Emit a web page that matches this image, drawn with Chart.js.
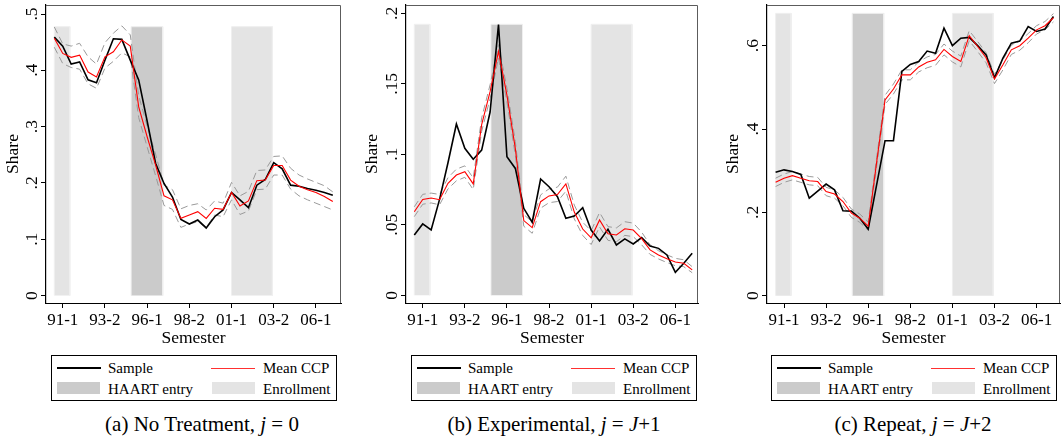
<!DOCTYPE html>
<html>
<head>
<meta charset="utf-8">
<script src="https://cdn.jsdelivr.net/npm/chart.js@4.4.1/dist/chart.umd.min.js"></script>
<style>
  html, body { margin: 0; padding: 0; background: #fff; }
  body { width: 1062px; height: 440px; position: relative; overflow: hidden;
         font-family: 'Liberation Serif', 'Times New Roman', serif; color: #000; }
  .panel { position: absolute; top: 0; width: 354px; height: 350px; }
  .legend { position: absolute; top: 355px; width: 284px; height: 44px; border: 1px solid #000; background: #fff; }
  .legend .sw { position: absolute; }
  .legend .lab { position: absolute; font-size: 15px; line-height: 18px; white-space: nowrap; }
  .caption { position: absolute; top: 411px; font-size: 21px; line-height: 26px; white-space: nowrap; transform: translateX(-50%); }
</style>
</head>
<body>

<div class="panel" style="left:0"><canvas id="chartA"></canvas></div>
<div class="panel" style="left:354px"><canvas id="chartB"></canvas></div>
<div class="panel" style="left:708px"><canvas id="chartC"></canvas></div>

<div id="legends"></div>

<div class="caption" style="left:202px">(a) No Treatment, <i>j</i> = 0</div>
<div class="caption" style="left:554px">(b) Experimental, <i>j</i> = <i>J</i>+1</div>
<div class="caption" style="left:913px">(c) Repeat, <i>j</i> = <i>J</i>+2</div>

<script>
// ─── DATA ───────────────────────────────────────────────────────
const semesters = ['90-2', '91-1', '91-2', '92-1', '92-2', '93-1', '93-2', '94-1', '94-2', '95-1',
  '95-2', '96-1', '96-2', '97-1', '97-2', '98-1', '98-2', '99-1', '99-2', '00-1',
  '00-2', '01-1', '01-2', '02-1', '02-2', '03-1', '03-2', '04-1', '04-2', '05-1',
  '05-2', '06-1', '06-2', '07-1'];
const xTickIdx = [1, 6, 11, 16, 21, 26, 31];

// shaded periods, in semester index units
const enrollSpans = [[0, 1.85], [21, 25.85]];
const haartSpan = [9.1, 12.85];
const bandTops = [0.4775, 0.1922, 0.6776];

const legendNames = ['Sample', 'Mean CCP', 'HAART entry', 'Enrollment'];

// (a) no treatment
const noTreatSample = [0.459, 0.443, 0.411, 0.415, 0.383, 0.378, 0.418, 0.456, 0.455, 0.418,
  0.383, 0.310, 0.235, 0.199, 0.175, 0.135, 0.127, 0.134, 0.120, 0.140,
  0.152, 0.183, 0.170, 0.156, 0.196, 0.206, 0.236, 0.225, 0.196, 0.194,
  0.190, 0.187, 0.183, 0.178];
const noTreatCCP = [0.457, 0.430, 0.423, 0.427, 0.397, 0.388, 0.424, 0.433, 0.454, 0.443,
  0.335, 0.282, 0.232, 0.177, 0.170, 0.137, 0.143, 0.149, 0.137, 0.155,
  0.153, 0.183, 0.159, 0.168, 0.204, 0.205, 0.231, 0.231, 0.205, 0.194,
  0.188, 0.183, 0.176, 0.167];
const noTreatHi = [0.477, 0.447, 0.443, 0.448, 0.424, 0.411, 0.449, 0.466, 0.479, 0.463,
  0.355, 0.301, 0.251, 0.196, 0.188, 0.154, 0.160, 0.163, 0.152, 0.168,
  0.164, 0.201, 0.177, 0.185, 0.222, 0.223, 0.247, 0.248, 0.226, 0.214,
  0.207, 0.201, 0.195, 0.184];
const noTreatLo = [0.441, 0.412, 0.405, 0.402, 0.376, 0.368, 0.404, 0.416, 0.431, 0.424,
  0.316, 0.264, 0.213, 0.160, 0.153, 0.121, 0.127, 0.131, 0.121, 0.143,
  0.140, 0.170, 0.144, 0.150, 0.188, 0.189, 0.214, 0.214, 0.189, 0.177,
  0.170, 0.164, 0.158, 0.152];
const noTreatTicks = [0, 0.1, 0.2, 0.3, 0.4, 0.5];

// (b) experimental
const experSample = [0.0428, 0.0506, 0.0463, 0.0680, 0.0940, 0.1215, 0.1043, 0.0965, 0.1030, 0.1300,
  0.1920, 0.0983, 0.0900, 0.0617, 0.0518, 0.0825, 0.0770, 0.0700, 0.0546, 0.0562,
  0.0621, 0.0463, 0.0385, 0.0468, 0.0357, 0.0400, 0.0364, 0.0409, 0.0350, 0.0333,
  0.0286, 0.0163, 0.0227, 0.0298];
const experCCP = [0.0593, 0.0680, 0.0690, 0.0678, 0.0794, 0.0853, 0.0877, 0.0790, 0.1210, 0.1444,
  0.1730, 0.1420, 0.1040, 0.0530, 0.0480, 0.0664, 0.0705, 0.0715, 0.0790, 0.0590,
  0.0470, 0.0408, 0.0534, 0.0437, 0.0428, 0.0472, 0.0463, 0.0402, 0.0322, 0.0286,
  0.0259, 0.0236, 0.0227, 0.0180];
const experHi = [0.0628, 0.0716, 0.0725, 0.0715, 0.0834, 0.0895, 0.0918, 0.0832, 0.1258, 0.1493,
  0.1778, 0.1468, 0.1090, 0.0572, 0.0522, 0.0712, 0.0755, 0.0767, 0.0845, 0.0640,
  0.0518, 0.0458, 0.0587, 0.0487, 0.0478, 0.0522, 0.0512, 0.0448, 0.0358, 0.0316,
  0.0287, 0.0262, 0.0252, 0.0203];
const experLo = [0.0558, 0.0646, 0.0655, 0.0642, 0.0755, 0.0812, 0.0837, 0.0750, 0.1163, 0.1395,
  0.1683, 0.1373, 0.0992, 0.0490, 0.0440, 0.0618, 0.0657, 0.0665, 0.0738, 0.0542,
  0.0425, 0.0360, 0.0485, 0.0390, 0.0380, 0.0425, 0.0416, 0.0358, 0.0290, 0.0258,
  0.0232, 0.0210, 0.0203, 0.0160];
const experTicks = [0, 0.05, 0.1, 0.15, 0.2];

// (c) repeat
const repeatSample = [0.296, 0.302, 0.298, 0.291, 0.234, 0.251, 0.268, 0.254, 0.204, 0.203,
  0.186, 0.160, 0.266, 0.372, 0.372, 0.538, 0.555, 0.562, 0.587, 0.582,
  0.642, 0.600, 0.618, 0.620, 0.600, 0.578, 0.523, 0.570, 0.606, 0.611,
  0.646, 0.634, 0.640, 0.670];
const repeatCCP = [0.272, 0.282, 0.288, 0.282, 0.276, 0.274, 0.250, 0.244, 0.226, 0.198,
  0.186, 0.167, 0.320, 0.470, 0.496, 0.530, 0.530, 0.549, 0.560, 0.566,
  0.591, 0.574, 0.562, 0.624, 0.598, 0.571, 0.520, 0.554, 0.590, 0.600,
  0.618, 0.638, 0.648, 0.667];
const repeatHi = [0.282, 0.292, 0.298, 0.292, 0.286, 0.284, 0.260, 0.254, 0.236, 0.208,
  0.196, 0.177, 0.331, 0.481, 0.508, 0.542, 0.542, 0.561, 0.573, 0.579,
  0.604, 0.587, 0.575, 0.636, 0.610, 0.583, 0.531, 0.566, 0.601, 0.611,
  0.629, 0.648, 0.658, 0.677];
const repeatLo = [0.262, 0.272, 0.278, 0.272, 0.266, 0.264, 0.240, 0.234, 0.216, 0.188,
  0.176, 0.157, 0.309, 0.459, 0.484, 0.518, 0.518, 0.537, 0.547, 0.553,
  0.578, 0.561, 0.549, 0.612, 0.586, 0.559, 0.509, 0.542, 0.579, 0.589,
  0.607, 0.628, 0.638, 0.657];
const repeatTicks = [0, 0.2, 0.4, 0.6];

// ─── STYLE ──────────────────────────────────────────────────────
const SERIF = "'Liberation Serif', 'Times New Roman', serif";
const HAART_GRAY = '#cbcbcb';
const ENROLL_GRAY = '#e4e4e4';
const BAND_EDGE = '#efefef';

Chart.defaults.font.family = SERIF;
Chart.defaults.color = '#000';

const fmtShare = (v) => (v === 0 ? '0' : String(v).replace(/^0/, ''));
const pts = (arr) => arr.map((v, i) => ({ x: i, y: v }));

function band(span, top, color, order) {
  return {
    data: [{ x: span[0], y: 0 }, { x: span[0], y: top }, { x: span[1], y: top }, { x: span[1], y: 0 }],
    borderColor: BAND_EDGE,
    borderWidth: 1,
    backgroundColor: color,
    fill: 'origin',
    pointRadius: 0,
    order,
  };
}

// plot-region frame (top/right) and vertical share labels on the y axis
const frameAndLabels = {
  id: 'frameAndLabels',
  afterDraw(chart) {
    const { ctx, chartArea: a, scales: { y } } = chart;
    ctx.save();
    ctx.strokeStyle = '#5c5c5c';
    ctx.lineWidth = 1;
    ctx.beginPath();
    ctx.moveTo(a.left, a.top + 0.5);
    ctx.lineTo(a.right - 0.5, a.top + 0.5);
    ctx.lineTo(a.right - 0.5, a.bottom);
    ctx.stroke();

    ctx.fillStyle = '#000';
    ctx.font = '17.5px ' + SERIF;
    ctx.textAlign = 'center';
    ctx.textBaseline = 'alphabetic';
    y.ticks.forEach((t) => {
      const py = y.getPixelForValue(t.value);
      ctx.save();
      ctx.translate(a.left - 9, py);
      ctx.rotate(-Math.PI / 2);
      ctx.fillText(fmtShare(t.value), 0, 0);
      ctx.restore();
    });
    ctx.restore();
  },
};

function makePanel(canvasId, p) {
  const ctx = document.getElementById(canvasId);
  return new Chart(ctx, {
    type: 'line',
    data: {
      datasets: [
        band(enrollSpans[0], p.bandTop, ENROLL_GRAY, 10),
        band(haartSpan, p.bandTop, HAART_GRAY, 10),
        band(enrollSpans[1], p.bandTop, ENROLL_GRAY, 10),
        { data: pts(p.hi), borderColor: '#9a9a9a', borderWidth: 1, borderDash: [7, 4], pointRadius: 0, fill: false, order: 3 },
        { data: pts(p.lo), borderColor: '#9a9a9a', borderWidth: 1, borderDash: [7, 4], pointRadius: 0, fill: false, order: 3 },
        { label: legendNames[0], data: pts(p.sample), borderColor: '#000', borderWidth: 1.6, pointRadius: 0, fill: false, order: 2 },
        { label: legendNames[1], data: pts(p.ccp), borderColor: '#ff0000', borderWidth: 1.1, pointRadius: 0, fill: false, order: 1 },
      ],
    },
    options: {
      responsive: true,
      maintainAspectRatio: false,
      animation: false,
      layout: { padding: { left: 0, top: 5, right: p.padRight, bottom: 0 } },
      plugins: { legend: { display: false }, tooltip: { enabled: false } },
      scales: {
        x: {
          type: 'linear',
          min: p.xMin,
          max: p.xMax,
          afterBuildTicks: (s) => { s.ticks = xTickIdx.map((v) => ({ value: v })); },
          afterFit: (s) => { s.height = 47; },
          ticks: {
            callback: (v) => semesters[v],
            font: { size: 17 },
            color: '#000',
            padding: 2,
            maxRotation: 0,
            autoSkip: false,
          },
          grid: { drawOnChartArea: false, drawTicks: true, tickLength: 5, color: '#000' },
          border: { display: true, color: '#000', width: 1 },
          title: { display: true, text: 'Semester', font: { size: 17.5 }, color: '#000', padding: { top: 0, bottom: 1 } },
        },
        y: {
          min: p.yMin,
          max: p.yMax,
          afterBuildTicks: (s) => { s.ticks = p.ticks.map((v) => ({ value: v })); },
          afterFit: (s) => { s.width = p.yWidth; },
          ticks: { display: false },
          grid: { drawOnChartArea: false, drawTicks: true, tickLength: 5, color: '#000' },
          border: { display: true, color: '#000', width: 1.2 },
          title: { display: true, text: 'Share', font: { size: 17.5 }, color: '#000', padding: { top: p.titlePad, bottom: 0 } },
        },
      },
    },
    plugins: [frameAndLabels],
  });
}

makePanel('chartA', {
  sample: noTreatSample, ccp: noTreatCCP, hi: noTreatHi, lo: noTreatLo, ticks: noTreatTicks,
  bandTop: bandTops[0], yMin: -0.0133, yMax: 0.516, xMin: -0.983, xMax: 33.97,
  yWidth: 46, padRight: 13, titlePad: 3,
});
makePanel('chartB', {
  sample: experSample, ccp: experCCP, hi: experHi, lo: experLo, ticks: experTicks,
  bandTop: bandTops[1], yMin: -0.00546, yMax: 0.2059, xMin: -0.985, xMax: 33.69,
  yWidth: 52, padRight: 10, titlePad: 8,
});
makePanel('chartC', {
  sample: repeatSample, ccp: repeatCCP, hi: repeatHi, lo: repeatLo, ticks: repeatTicks,
  bandTop: bandTops[2], yMin: -0.0175, yMax: 0.6976, xMin: -1.02, xMax: 33.78,
  yWidth: 59, padRight: 2, titlePad: 15,
});

// ─── LEGENDS ────────────────────────────────────────────────────
function buildLegend(left) {
  const box = document.createElement('div');
  box.className = 'legend';
  box.style.left = left + 'px';
  const swatches = [
    { l: 5, t: 11, w: 44, h: 2, c: '#000' },
    { l: 159, t: 11.5, w: 44, h: 1, c: '#ff3030' },
    { l: 5, t: 26, w: 43, h: 12, c: HAART_GRAY },
    { l: 160, t: 26, w: 43, h: 12, c: ENROLL_GRAY },
  ];
  const labelPos = [[56, 3], [211, 3], [56, 24], [211, 24]];
  swatches.forEach((s, k) => {
    const d = document.createElement('div');
    d.className = 'sw';
    Object.assign(d.style, { left: s.l + 'px', top: s.t + 'px', width: s.w + 'px', height: s.h + 'px', background: s.c });
    box.appendChild(d);
    const t = document.createElement('div');
    t.className = 'lab';
    t.style.left = labelPos[k][0] + 'px';
    t.style.top = labelPos[k][1] + 'px';
    t.textContent = legendNames[k];
    box.appendChild(t);
  });
  document.getElementById('legends').appendChild(box);
}
[51, 411, 771].forEach(buildLegend);
</script>
</body>
</html>
